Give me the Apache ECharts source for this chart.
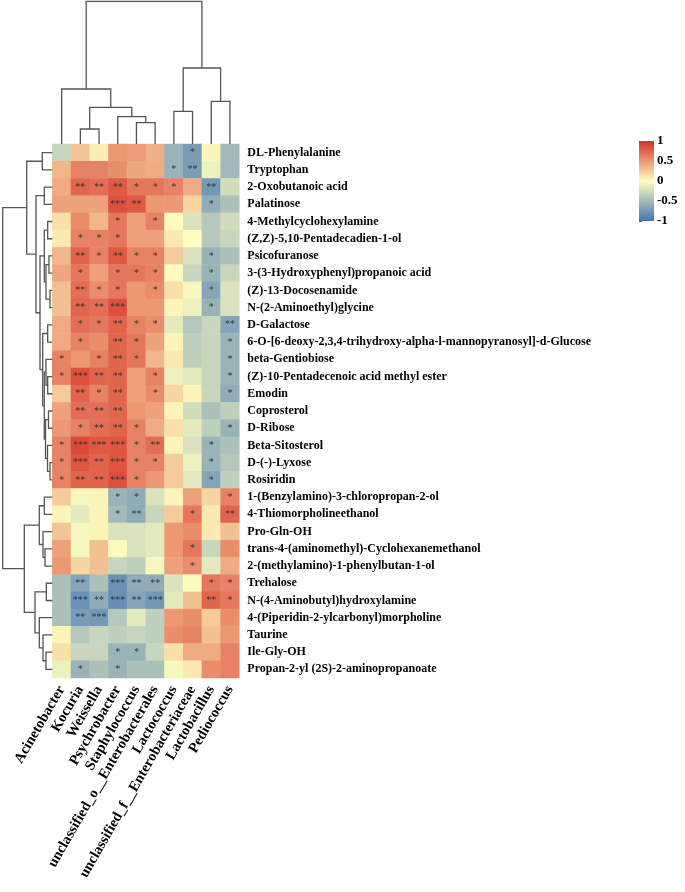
<!DOCTYPE html>
<html><head><meta charset="utf-8">
<script src="https://cdn.jsdelivr.net/npm/echarts@6/dist/echarts.min.js"></script>
<style>html,body{margin:0;padding:0;background:#fff;}#c{width:685px;height:892px;}</style>
</head><body><div id="c"></div>
<script>
const columns = ['Acinetobacter','Kocuria','Weissella','Psychrobacter','Staphylococcus','unclassified_o__Enterobacterales','Lactococcus','unclassified_f__Enterobacteriaceae','Lactobacillus','Pediococcus'];
const rows = ['DL-Phenylalanine','Tryptophan','2-Oxobutanoic acid','Palatinose','4-Methylcyclohexylamine','(Z,Z)-5,10-Pentadecadien-1-ol','Psicofuranose','3-(3-Hydroxyphenyl)propanoic acid','(Z)-13-Docosenamide','N-(2-Aminoethyl)glycine','D-Galactose','6-O-[6-deoxy-2,3,4-trihydroxy-alpha-l-mannopyranosyl]-d-Glucose','beta-Gentiobiose','(Z)-10-Pentadecenoic acid methyl ester','Emodin','Coprosterol','D-Ribose','Beta-Sitosterol','D-(-)-Lyxose','Rosiridin','1-(Benzylamino)-3-chloropropan-2-ol','4-Thiomorpholineethanol','Pro-Gln-OH','trans-4-(aminomethyl)-Cyclohexanemethanol','2-(methylamino)-1-phenylbutan-1-ol','Trehalose','N-(4-Aminobutyl)hydroxylamine','4-(Piperidin-2-ylcarbonyl)morpholine','Taurine','Ile-Gly-OH','Propan-2-yl (2S)-2-aminopropanoate'];
const values = [
[-0.3,0.28,0.08,0.5,0.48,0.38,-0.55,-0.72,0.05,-0.5],
[0.35,0.6,0.6,0.55,0.42,0.4,-0.55,-0.7,-0.1,-0.5],
[0.4,0.75,0.7,0.8,0.65,0.65,0.6,0.4,-0.75,-0.25],
[0.45,0.45,0.45,0.85,0.8,0.5,0.5,0.2,-0.6,-0.45],
[0.15,0.55,0.35,0.65,0.45,0.6,0.02,-0.2,-0.4,-0.25],
[0.1,0.6,0.6,0.65,0.45,0.45,0.1,0.0,-0.4,-0.3],
[0.35,0.75,0.6,0.8,0.6,0.6,0.25,-0.2,-0.55,-0.45],
[0.42,0.65,0.45,0.65,0.65,0.6,0.02,-0.3,-0.55,-0.3],
[0.3,0.7,0.55,0.65,0.5,0.55,0.15,-0.05,-0.65,-0.2],
[0.3,0.75,0.7,0.85,0.5,0.5,0.05,-0.1,-0.55,-0.2],
[0.4,0.7,0.65,0.75,0.6,0.55,-0.15,-0.4,-0.3,-0.65],
[0.4,0.6,0.55,0.75,0.65,0.45,0.05,-0.35,-0.3,-0.55],
[0.6,0.5,0.6,0.75,0.65,0.35,0.1,-0.35,-0.3,-0.55],
[0.6,0.85,0.75,0.75,0.45,0.6,-0.1,-0.15,-0.3,-0.55],
[0.25,0.75,0.6,0.75,0.45,0.55,0.2,0.05,-0.3,-0.6],
[0.45,0.7,0.7,0.75,0.5,0.45,0.05,-0.25,-0.45,-0.35],
[0.5,0.6,0.7,0.75,0.6,0.4,0.15,-0.15,-0.35,-0.55],
[0.6,0.88,0.8,0.82,0.6,0.7,0.05,-0.2,-0.55,-0.45],
[0.6,0.82,0.75,0.82,0.6,0.6,0.25,-0.1,-0.55,-0.4],
[0.6,0.75,0.75,0.85,0.6,0.5,0.25,-0.15,-0.65,-0.35],
[0.25,-0.05,0.05,-0.55,-0.6,-0.2,0.05,0.45,0.2,0.6],
[0.05,-0.15,0.05,-0.5,-0.6,-0.3,0.25,0.65,0.1,0.75],
[0.28,-0.05,0.05,-0.2,-0.2,-0.15,0.5,0.55,0.1,0.3],
[0.45,-0.05,0.3,0.02,-0.2,-0.15,0.5,0.65,-0.3,0.55],
[0.5,0.2,0.3,-0.3,-0.35,-0.05,0.45,0.55,-0.15,0.4],
[-0.45,-0.65,-0.45,-0.8,-0.6,-0.6,-0.2,0.02,0.65,0.6],
[-0.45,-0.8,-0.6,-0.82,-0.65,-0.75,-0.15,0.3,0.75,0.65],
[-0.45,-0.72,-0.75,-0.4,-0.15,-0.35,0.5,0.55,0.25,0.55],
[0.05,-0.4,-0.3,-0.35,-0.3,-0.35,0.55,0.6,0.3,0.5],
[0.15,-0.3,-0.3,-0.55,-0.55,-0.3,0.15,0.4,0.4,0.6],
[-0.1,-0.55,-0.45,-0.55,-0.45,-0.45,-0.05,0.1,0.55,0.6]
];
const signif = [
['','','','','','','','*','',''],
['','','','','','','*','**','',''],
['','**','**','**','*','*','*','','**',''],
['','','','***','**','','','','*',''],
['','','','*','','*','','','',''],
['','*','*','*','','','','','',''],
['','**','*','**','*','*','','','*',''],
['','*','','*','*','*','','','*',''],
['','**','*','*','','*','','','*',''],
['','**','**','***','','','','','*',''],
['','*','*','**','*','*','','','','**'],
['','*','','**','*','','','','','*'],
['*','','*','**','*','','','','','*'],
['*','***','**','**','','*','','','','*'],
['','**','*','**','','*','','','','*'],
['','**','**','**','','','','','',''],
['','*','**','**','*','','','','','*'],
['*','***','***','***','*','**','','','*',''],
['*','***','**','***','*','*','','','*',''],
['*','**','**','***','*','','','','*',''],
['','','','*','*','','','','','*'],
['','','','*','**','','','*','','**'],
['','','','','','','','','',''],
['','','','','','','','*','',''],
['','','','','','','','*','',''],
['','**','','***','**','**','','','*','*'],
['','***','**','***','**','***','','','**','*'],
['','**','***','','','','','','',''],
['','','','','','','','','',''],
['','','','*','*','','','','',''],
['','*','','*','','','','','','']
];
// hierarchical merges: [childA, childB, height]; negative = leaf (1-based), positive = earlier merge
const colMerges = [[-2,-3,15],[-5,-6,21.3],[-4,2,27.3],[1,3,36.7],[-1,4,55],[-7,-8,32.7],[-9,-10,42.7],[6,7,76],[5,8,142.7]];
const rowMerges = [
[-1,-2,10],[-3,-4,8],[-5,-6,4.6],[-7,-8,3.3],[-9,-10,2.3],[4,5,6.3],[3,6,8],
[-11,-12,4.6],[-14,-15,4.6],[-13,9,6.3],[-16,-17,3.8],[-19,-20,2.3],[-18,12,4.8],[11,13,6.8],[10,14,8],[8,15,9.6],
[7,16,12.3],[2,17,16.3],[1,18,25.6],
[-21,-22,8],[-24,-25,7.3],[-23,21,9.3],[20,22,13],
[-26,-27,6],[-30,-31,6.3],[-29,25,9.3],[-28,26,13],[24,27,17.3],[23,28,28],
[19,29,49.6]
];
const legendTicks = [-1,-0.5,0,0.5,1];
const palette = ['#4575B4','#FFFFBF','#D73027'];

const FONT = "'Liberation Serif','Times New Roman',serif";
function buildSegs(merges){
  const pos=[],ht=[],segs=[];
  merges.forEach(function(m,i){
    const a=m[0],b=m[1],h=m[2];
    const pa=a<0?(-a-1)+0.5:pos[a-1], ha=a<0?0:ht[a-1];
    const pb=b<0?(-b-1)+0.5:pos[b-1], hb=b<0?0:ht[b-1];
    segs.push([pa,ha,pb,hb,h]);
    pos[i]=(pa+pb)/2; ht[i]=h;
  });
  return segs;
}
const colSegs = buildSegs(colMerges);
const rowSegs = buildSegs(rowMerges);
const colTop = colMerges[colMerges.length-1][2];
const rowTop = rowMerges[rowMerges.length-1][2];
const lMin = legendTicks[0], lMax = legendTicks[legendTicks.length-1];

const heatData=[];
rows.forEach(function(r,i){columns.forEach(function(c,j){heatData.push({value:[j,i,values[i][j]],sig:signif[i][j]});});});

const lineStyle={stroke:'#555',lineWidth:1.3,fill:null};
const HL=52.3, HT=144, HW=187, HH=534;
const chart=echarts.init(document.getElementById('c'),null,{renderer:'canvas'});
chart.setOption({
  animation:false,
  backgroundColor:'#fff',
  grid:[
    {left:HL,top:HT,width:HW,height:HH},
    {left:HL,top:1.3,width:HW,height:HT-1.3},
    {left:2.7,top:HT,width:HL-2.7,height:HH},
    {left:639,top:141,width:15,height:80}
  ],
  xAxis:[
    {type:'category',gridIndex:0,data:columns,position:'bottom',axisLine:{show:false},axisTick:{show:false},
     axisLabel:{rotate:60,interval:0,margin:9,fontFamily:FONT,fontWeight:'bold',fontSize:14.5,color:'#000'}},
    {type:'value',gridIndex:1,min:0,max:columns.length,show:false},
    {type:'value',gridIndex:2,min:0,max:rowTop,inverse:true,show:false},
    {type:'value',gridIndex:3,min:0,max:1,show:false}
  ],
  yAxis:[
    {type:'category',gridIndex:0,data:rows,inverse:true,position:'right',axisLine:{show:false},axisTick:{show:false},
     axisLabel:{interval:0,margin:8,fontFamily:FONT,fontWeight:'bold',fontSize:12,color:'#000'}},
    {type:'value',gridIndex:1,min:0,max:colTop,show:false},
    {type:'value',gridIndex:2,min:0,max:rows.length,inverse:true,show:false},
    {type:'value',gridIndex:3,min:lMin,max:lMax,interval:0.5,position:'right',splitLine:{show:false},
     axisLine:{show:false},axisTick:{show:true,length:3,lineStyle:{color:'#555'}},
     axisLabel:{margin:3,fontFamily:FONT,fontWeight:'bold',fontSize:13,color:'#000',
       formatter:function(v){return legendTicks.indexOf(v)>=0?String(v):'';}}}
  ],
  visualMap:{type:'continuous',show:false,min:lMin,max:lMax,dimension:2,seriesIndex:0,
    inRange:{color:palette}},
  series:[
    {type:'heatmap',xAxisIndex:0,yAxisIndex:0,data:heatData,progressive:0,
     itemStyle:{borderWidth:0},emphasis:{disabled:true},
     label:{show:true,fontSize:10,color:'#333',fontFamily:FONT,
       formatter:function(p){return p.data.sig||'';}}},
    {type:'custom',xAxisIndex:1,yAxisIndex:1,data:colSegs,clip:false,silent:true,
     renderItem:function(params,api){
       const p1=api.value(0),h1=api.value(1),p2=api.value(2),h2=api.value(3),h=api.value(4);
       return {type:'polyline',shape:{points:[api.coord([p1,h1]),api.coord([p1,h]),api.coord([p2,h]),api.coord([p2,h2])]},style:lineStyle};
     }},
    {type:'custom',xAxisIndex:2,yAxisIndex:2,data:rowSegs,clip:false,silent:true,
     renderItem:function(params,api){
       const p1=api.value(0),h1=api.value(1),p2=api.value(2),h2=api.value(3),h=api.value(4);
       return {type:'polyline',shape:{points:[api.coord([h1,p1]),api.coord([h,p1]),api.coord([h,p2]),api.coord([h2,p2])]},style:lineStyle};
     }},
    {type:'custom',xAxisIndex:3,yAxisIndex:3,data:[[0,lMin,1,lMax]],clip:false,silent:true,
     renderItem:function(params,api){
       const a=api.coord([api.value(0),api.value(1)]), b=api.coord([api.value(2),api.value(3)]);
       return {type:'rect',shape:{x:a[0],y:b[1],width:b[0]-a[0],height:a[1]-b[1]},
         style:{fill:new echarts.graphic.LinearGradient(0,1,0,0,[
           {offset:0,color:palette[0]},{offset:0.5,color:palette[1]},{offset:1,color:palette[2]}])}};
     }}
  ]
});
</script></body></html>
